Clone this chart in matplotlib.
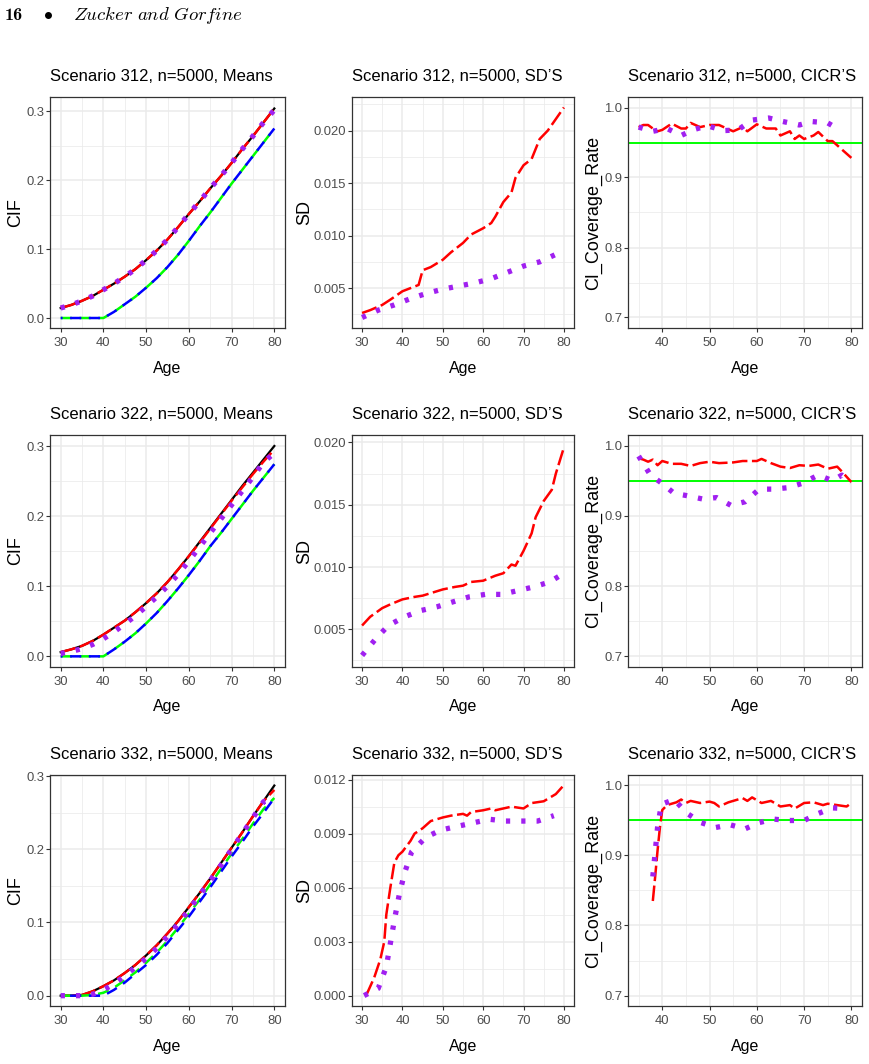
import matplotlib
matplotlib.use('Agg')
import matplotlib.pyplot as plt
from matplotlib.ticker import MultipleLocator, AutoMinorLocator, FormatStrFormatter

# ---------------- data ----------------
age_m = [30, 32.5, 35, 37.5, 40, 42.5, 45, 47.5, 50, 52.5, 55, 57.5, 60, 62.5, 65, 67.5, 70, 72.5, 75, 77.5, 80]

# Scenario 312 means
true312 = [.0145, .019, .025, .032, .041, .05, .06, .071, .084, .098, .114, .132, .151, .169, .188, .206, .225, .245, .264, .284, .304]
est312 = [.0145, .019, .025, .032, .041, .05, .06, .071, .084, .098, .114, .132, .151, .169, .188, .206, .225, .245, .264, .284, .304]
km312 = [.0145, .019, .025, .032, .041, .05, .06, .071, .084, .098, .114, .132, .151, .169, .188, .206, .225, .245, .264, .284, .302]
g312 = [0, 0, 0, 0, 0, .009, .02, .031, .044, .058, .074, .092, .112, .133, .153, .174, .195, .215, .235, .255, .275]
b312 = [0, 0, 0, 0, 0, .009, .02, .031, .044, .058, .074, .092, .112, .133, .153, .174, .195, .215, .235, .255, .275]

# Scenario 322 means
true322 = [.006, .01, .015, .022, .031, .041, .051, .063, .076, .09, .106, .124, .143, .163, .183, .203, .223, .243, .262, .281, .300]
est322 = [.006, .01, .015, .022, .031, .041, .051, .063, .076, .09, .106, .124, .143, .162, .182, .202, .222, .241, .260, .278, .295]
km322 = [.004, .007, .011, .017, .025, .035, .046, .058, .071, .085, .100, .117, .136, .156, .176, .196, .216, .236, .256, .277, .290]
g322 = [0, 0, 0, 0, 0, .01, .021, .033, .047, .062, .079, .097, .116, .136, .157, .176, .196, .216, .236, .255, .274]
b322 = [0, 0, 0, 0, 0, .01, .021, .033, .047, .062, .079, .097, .116, .136, .157, .176, .196, .216, .236, .255, .274]

# Scenario 332 means
true332 = [0, 0, .001, .006, .013, .021, .031, .042, .055, .069, .085, .102, .121, .140, .160, .181, .202, .223, .245, .266, .287]
est332 = [0, 0, .001, .006, .013, .021, .031, .042, .055, .069, .085, .102, .121, .140, .160, .181, .202, .223, .245, .266, .281]
km332 = [0, 0, 0, .002, .008, .016, .027, .039, .051, .065, .081, .098, .117, .137, .157, .178, .200, .221, .243, .265, .268]
g332 = [0, 0, 0, .001, .004, .011, .021, .032, .045, .059, .075, .093, .112, .131, .152, .173, .194, .214, .235, .255, .270]
b332 = [0, 0, 0, 0, 0, .008, .018, .030, .042, .056, .072, .090, .108, .128, .148, .169, .190, .210, .231, .250, .270]

# SD panels
sd312_est_age = [30, 32, 35, 37, 40, 42, 44, 45, 47, 50, 52, 55, 57, 60, 62, 63, 65, 67, 68, 70, 72, 74, 76, 78, 80]
sd312_est = [.00263, .0029, .0034, .0039, .0047, .0050, .0053, .0067, .0070, .0077, .0084, .0093, .0101, .0107, .0112,
             .0118, .0132, .0141, .0155, .0167, .0173, .0192, .0200, .0211, .0222]
sd312_km_age = [30, 34, 38, 42, 46, 50, 54, 58, 62, 66, 70, 74, 78.5]
sd312_km = [.0022, .0029, .0034, .0040, .0045, .0049, .0052, .0055, .0059, .0065, .0071, .0075, .0083]

sd322_est_age = [30, 32, 35, 37, 40, 43, 45, 48, 50, 53, 55, 57, 60, 63, 65, 67, 68, 70, 72, 73, 75, 77, 78, 80]
sd322_est = [.0053, .006, .0067, .0070, .0074, .0076, .0077, .0080, .0082, .0084, .0085, .0088, .0089, .0093, .0095,
             .0102, .0101, .0113, .0127, .0140, .0153, .0162, .0175, .0196]
sd322_km_age = [30, 33.3, 36.5, 40.5, 44.5, 48.5, 52.5, 56.5, 60.5, 64.5, 68.5, 72.5, 76.5, 80]
sd322_km = [.0029, .0042, .0053, .0060, .0065, .0068, .0072, .0076, .0078, .0078, .0081, .0084, .0088, .0095]

sd332_est_age = [31, 33, 34.5, 35.5, 36, 37, 38, 39, 40, 42, 43, 45, 47, 50, 52, 55, 56, 57, 60, 62, 63, 65, 67, 70, 72, 75, 78, 80]
sd332_est = [0, .001, .002, .003, .0045, .006, .0074, .0078, .0080, .0086, .0090, .0093, .0097, .0099, .0100, .0101,
             .0100, .0102, .0103, .0104, .0103, .0104, .0105, .0104, .0107, .0108, .0112, .0117]
sd332_km_age = [30.5, 34, 36, 37, 38, 39.2, 40.5, 42.3, 45.8, 49.5, 53.5, 57.5, 61.5, 65.5, 69.5, 73.5, 77.5]
sd332_km = [0, .0004, .0016, .0029, .0042, .0056, .0068, .0080, .0088, .0092, .0094, .0096, .0098, .0097, .0097, .0097, .0100]

# CI coverage rate panels
cr312_est_age = [35, 36, 37, 38, 39, 40, 42, 44, 45, 46, 48, 50, 52, 53, 55, 57, 58, 60, 62, 64, 65, 67, 68, 69, 70, 72, 73, 75, 76, 78, 80]
cr312_est = [.972, .975, .975, .970, .966, .968, .977, .970, .970, .978, .972, .975, .975, .972, .966, .972, .966, .976,
             .970, .970, .960, .966, .955, .960, .955, .960, .965, .952, .952, .940, .928]
cr312_km_age = [35, 38, 41, 44, 46.5, 49.5, 53, 56, 59, 62.5, 65.5, 69, 71.5, 75, 77.5]
cr312_km = [.972, .966, .970, .960, .968, .974, .967, .968, .982, .985, .980, .975, .980, .978, .968]

cr322_est_age = [35, 36, 37, 38, 39, 40, 42, 44, 46, 48, 50, 52, 55, 57, 60, 61, 63, 65, 67, 69, 71, 73, 75, 77, 78, 80]
cr322_est = [.982, .980, .977, .980, .972, .978, .974, .974, .971, .975, .977, .975, .976, .978, .978, .981, .975, .970,
             .968, .972, .971, .973, .967, .970, .963, .948]
cr322_km_age = [35, 37.5, 40, 42.5, 45, 48.5, 51.5, 54.5, 57.5, 60.5, 63.5, 66.5, 69.5, 73, 76, 78, 80]
cr322_km = [.985, .958, .946, .932, .929, .924, .926, .915, .920, .938, .938, .940, .946, .958, .950, .958, .948]

cr332_est_age = [38, 38.5, 39, 39.5, 40, 41, 43, 44, 45, 46, 48, 50, 51, 52, 54, 56, 57, 58, 59, 61, 63, 65, 67, 68, 70, 72, 74, 75, 77, 79, 80]
cr332_est = [.835, .870, .907, .940, .965, .972, .976, .980, .975, .978, .975, .977, .975, .970, .976, .980, .982, .978,
             .983, .975, .978, .970, .972, .967, .975, .976, .972, .974, .972, .970, .975]
cr332_km_age = [38, 38.5, 39, 39.8, 42.5, 45.3, 48.2, 51.3, 54.3, 57.5, 60.5, 63.5, 66.7, 70, 73, 76, 79]
cr332_km = [.870, .905, .940, .973, .980, .960, .947, .940, .944, .938, .947, .952, .950, .950, .960, .968, .967]

nominal = 0.95
scenarios = ['312', '322', '332']

# ---------------- figure ----------------
FONT = ['Liberation Sans', 'DejaVu Sans']
plt.rcParams['font.family'] = FONT

W, H = 869, 1064
fig = plt.figure(figsize=(W / 100, H / 100), dpi=100)

cols_x = [(50, 285), (352, 574), (628, 862)]
rows_y = [(97, 328), (435, 667), (775, 1006)]
ylab_x = [16, 305, 594]

RED = '#FF0000'
PUR = '#A020F0'
GRN = '#00FF00'
BLU = '#0000FF'


def add_ax(r, c):
    x0, x1 = cols_x[c]
    y0, y1 = rows_y[r]
    return fig.add_axes([x0 / W, 1 - y1 / H, (x1 - x0) / W, (y1 - y0) / H])


def style(ax, r, c, xlim, ylim, ymaj, yfmt, title, ylabel):
    ax.set_xlim(*xlim)
    ax.set_ylim(*ylim)
    ax.xaxis.set_major_locator(MultipleLocator(10))
    ax.xaxis.set_minor_locator(AutoMinorLocator(2))
    ax.yaxis.set_major_locator(MultipleLocator(ymaj))
    ax.yaxis.set_minor_locator(AutoMinorLocator(2))
    ax.yaxis.set_major_formatter(FormatStrFormatter(yfmt))
    ax.grid(which='major', color='#EBEBEB', lw=1.1)
    ax.grid(which='minor', color='#EBEBEB', lw=0.55)
    ax.set_axisbelow(True)
    for s in ax.spines.values():
        s.set_color('#333333')
        s.set_linewidth(0.9)
    ax.tick_params(which='major', length=2.7, width=0.8, color='#333333',
                   labelcolor='#4D4D4D', labelsize=9.4)
    ax.tick_params(axis='x', which='major', pad=3.5)
    ax.tick_params(axis='y', which='major', pad=1.5)
    ax.tick_params(which='minor', length=0)
    ax.set_title(title, loc='left', fontsize=12, pad=11.5, color='black')
    x0, x1 = cols_x[c]
    y0, y1 = rows_y[r]
    fig.text((x0 + x1) / 2 / W, 1 - (y1 + 44.5) / H, 'Age', ha='center', va='baseline', fontsize=11.5)
    fig.text(ylab_x[c] / W, 1 - (y0 + y1) / 2 / H, ylabel, rotation=90, ha='center', va='center',
             fontsize=13)


def plot_red(ax, x, y):
    ax.plot(x, y, color=RED, lw=1.8, linestyle=(0, (6.2, 1.8)), dash_capstyle='butt', zorder=3)


def plot_purple(ax, x, y):
    ax.plot(x, y, color=PUR, lw=3.8, linestyle=(0, (0.8, 2.1)), dash_capstyle='butt', zorder=5)


means = [(true312, est312, km312, g312, b312),
         (true322, est322, km322, g322, b322),
         (true332, est332, km332, g332, b332)]
mean_ylims = [(-0.0145, 0.3207), (-0.0152, 0.3157), (-0.0141, 0.3014)]

sds = [(sd312_est_age, sd312_est, sd312_km_age, sd312_km),
       (sd322_est_age, sd322_est, sd322_km_age, sd322_km),
       (sd332_est_age, sd332_est, sd332_km_age, sd332_km)]
sd_ylims = [(0.0012, 0.0232), (0.00197, 0.0206), (-0.00058, 0.01226)]
sd_major = [0.005, 0.005, 0.003]

crs = [(cr312_est_age, cr312_est, cr312_km_age, cr312_km),
       (cr322_est_age, cr322_est, cr322_km_age, cr322_km),
       (cr332_est_age, cr332_est, cr332_km_age, cr332_km)]

for r, sc in enumerate(scenarios):
    # Means
    ax = add_ax(r, 0)
    tr, es, km, gg, bb = means[r]
    ax.plot(age_m, tr, color='black', lw=1.6, zorder=2)
    plot_red(ax, age_m, es)
    ax.plot(age_m, gg, color=GRN, lw=1.8, linestyle=(0, (4.5, 3.0)), dash_capstyle='butt', zorder=3)
    ax.plot(age_m, bb, color=BLU, lw=1.8, linestyle=(3.75, (4.5, 3.0)), dash_capstyle='butt', zorder=4)
    plot_purple(ax, age_m, km)
    style(ax, r, 0, (27.5, 82.5), mean_ylims[r], 0.1, '%.1f',
          f'Scenario {sc}, n=5000, Means', 'CIF')

    # SDs
    ax = add_ax(r, 1)
    ea, ev, ka, kv = sds[r]
    plot_red(ax, ea, ev)
    plot_purple(ax, ka, kv)
    style(ax, r, 1, (27.5, 82.5), sd_ylims[r], sd_major[r], '%.3f',
          f'Scenario {sc}, n=5000, SD\u2019S', 'SD')

    # Coverage
    ax = add_ax(r, 2)
    ea, ev, ka, kv = crs[r]
    ax.axhline(nominal, color=GRN, lw=1.4, zorder=2)
    plot_red(ax, ea, ev)
    plot_purple(ax, ka, kv)
    style(ax, r, 2, (32.75, 82.25), (0.685, 1.015), 0.1, '%.1f',
          f'Scenario {sc}, n=5000, CICR\u2019S', 'CI_Coverage_Rate')

# running header
fig.text(5 / W, 1 - 19.5 / H, '16', fontfamily='cmb10', fontsize=13, va='baseline')
fig.text(48 / W, 1 - 14 / H, r'$\bullet$', math_fontfamily='cm', fontsize=13, ha='center', va='center')
fig.text(73 / W, 1 - 19.5 / H, r'$\mathit{Zucker\ and\ Gorfine}$', math_fontfamily='cm',
         fontsize=13.5, va='baseline')

fig.savefig('out.png', dpi=100)
